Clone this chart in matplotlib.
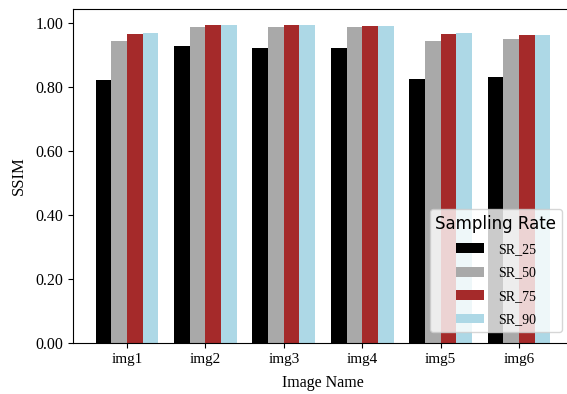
import matplotlib
matplotlib.use("Agg")
import matplotlib.pyplot as plt
import numpy as np

images = ["img1", "img2", "img3", "img4", "img5", "img6"]
series_names = ["SR_25", "SR_50", "SR_75", "SR_90"]
sr_25 = [0.822, 0.928, 0.921, 0.921, 0.824, 0.830]
sr_50 = [0.944, 0.988, 0.988, 0.985, 0.944, 0.950]
sr_75 = [0.965, 0.993, 0.993, 0.990, 0.965, 0.962]
sr_90 = [0.968, 0.993, 0.993, 0.990, 0.968, 0.962]
colors = ["black", "darkgray", "brown", "lightblue"]

fig = plt.figure(figsize=(5.67, 3.94), dpi=100)
ax = fig.add_axes([73/567, 51/394, (573-73)/567, (343-9)/394])

serif = "Liberation Serif"
x = np.arange(len(images))
w = 0.2
for i, (name, vals) in enumerate(zip(series_names, [sr_25, sr_50, sr_75, sr_90])):
    ax.bar(x + (i - 1.5) * w, vals, width=w, color=colors[i], label=name)

ax.set_xticks(x)
ax.set_xticklabels(images, fontfamily=serif, fontsize=11)
ax.set_yticks([0, 0.2, 0.4, 0.6, 0.8, 1.0])
ax.set_yticklabels([f"{v:.2f}" for v in [0, 0.2, 0.4, 0.6, 0.8, 1.0]], fontfamily=serif, fontsize=11.5)
ax.set_xlabel("Image Name", fontfamily=serif, fontsize=11.5, labelpad=7)
ax.set_ylabel("SSIM", fontfamily=serif, fontsize=12, labelpad=6)

leg = ax.legend(title="Sampling Rate", loc="lower right", prop={"family": serif, "size": 10},
                title_fontsize=12, labelspacing=0.75, borderaxespad=0.8, handletextpad=1.0)
fig.savefig("out.png", dpi=100)
